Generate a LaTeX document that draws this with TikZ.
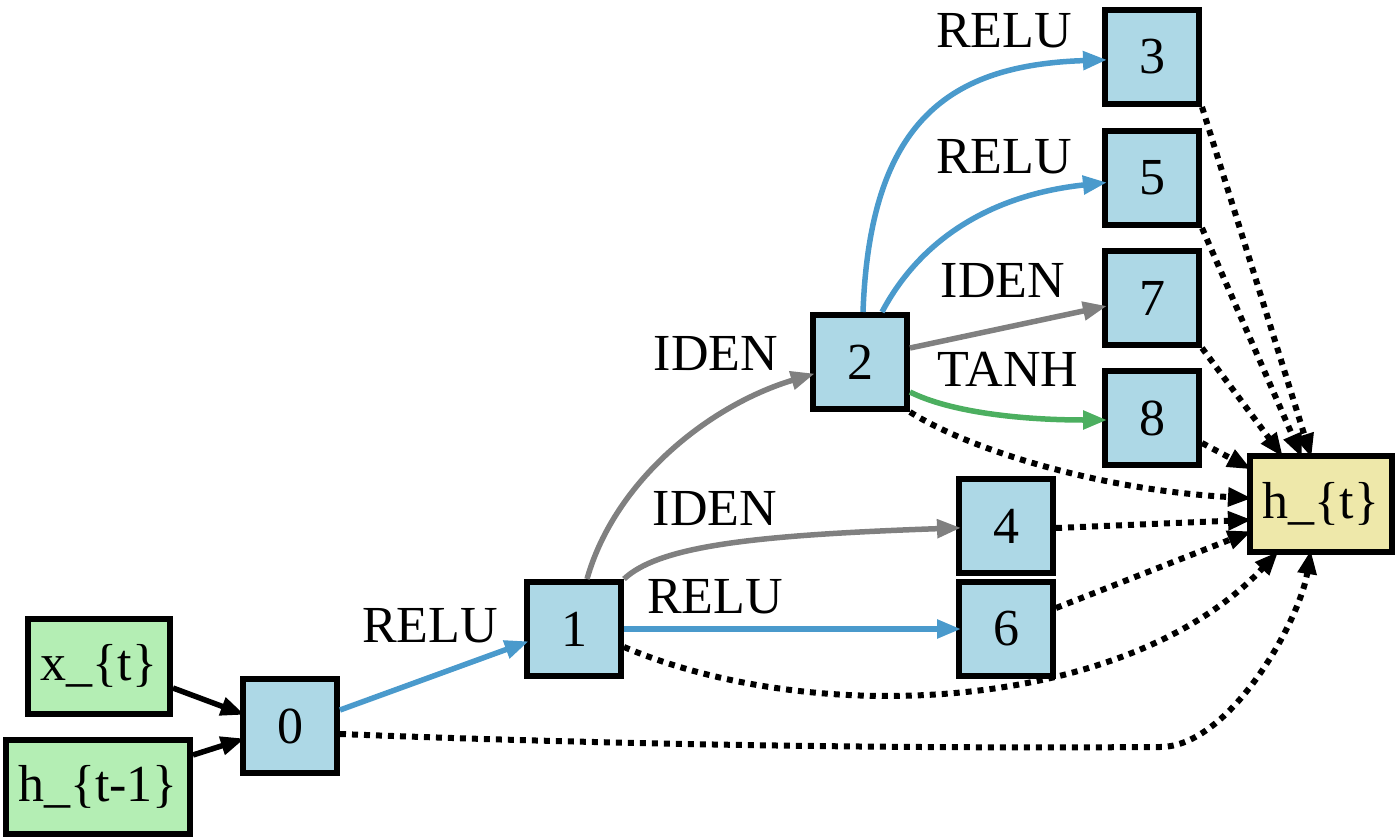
\documentclass[tikz,border=0pt]{standalone}
\usepackage{fontspec}
\setmainfont{Liberation Serif}
\usetikzlibrary{arrows.meta}
\definecolor{nodeblue}{RGB}{173,216,230}
\definecolor{nodegreen}{RGB}{180,238,180}
\definecolor{nodeyellow}{RGB}{238,232,170}
\definecolor{edgeblue}{RGB}{74,154,204}
\definecolor{edgegray}{RGB}{128,128,128}
\definecolor{edgegreen}{RGB}{76,175,96}
\begin{document}
\begin{tikzpicture}[x=1pt,y=-1pt,
  font=\rmfamily\fontsize{52}{62}\selectfont,
  box/.style={draw=black, line width=6pt, inner sep=0pt, minimum width=94pt, minimum height=94pt, fill=nodeblue},
  inbox/.style={box, fill=nodegreen, minimum width=#1},
  outbox/.style={box, fill=nodeyellow, minimum width=142pt, minimum height=96pt},
  edge/.style={line width=5.5pt, shorten >=-5pt, -{Triangle[length=24pt,width=18pt]}},
  dotedge/.style={edge, black, line width=6pt, dash pattern=on 6pt off 6pt},
  lab/.style={anchor=base, inner sep=0pt}
]
\useasboundingbox (0,0) rectangle (1397,840);
% nodes
\node[inbox=142pt, minimum height=95pt] (xt) at (99,666) {x\_\{t\}};
\node[inbox=184pt] (htm) at (98,787) {h\_\{t-1\}};
\node[box] (n0) at (290,726) {0};
\node[box] (n1) at (574,629) {1};
\node[box] (n2) at (860,362) {2};
\node[box] (n3) at (1152,57) {3};
\node[box] (n5) at (1152,178) {5};
\node[box] (n7) at (1152,298) {7};
\node[box] (n8) at (1152,418) {8};
\node[box] (n4) at (1006,526) {4};
\node[box] (n6) at (1006,629) {6};
\node[outbox] (ht) at (1321,504) {h\_\{t\}};
\coordinate (m0) at (1160,747);
% solid edges
\draw[edge] ([yshift=-22pt]xt.east) -- ([yshift=13pt]n0.west);
\draw[edge] ([yshift=32pt]htm.east) -- ([yshift=-14pt]n0.west);
\draw[edge, edgeblue] ([yshift=16pt]n0.east) -- ([yshift=-14pt]n1.west);
\draw[edge, edgegray] ([xshift=13pt]n1.north) .. controls (615,480) and (710,405) .. ([yshift=-13pt]n2.west);
\draw[edge, edgegray] (n1.north east) .. controls (660,545) and (760,535) .. ([yshift=-2pt]n4.west);
\draw[edge, edgeblue] (n1.east) -- (n6.west);
\draw[edge, edgeblue] ([xshift=3pt]n2.north) .. controls (870,120) and (950,65) .. ([yshift=-3pt]n3.west);
\draw[edge, edgeblue] ([xshift=22pt]n2.north) .. controls (920,240) and (990,195) .. ([yshift=-5pt]n5.west);
\draw[edge, edgegray] ([yshift=14pt]n2.east) -- ([yshift=-9pt]n7.west);
\draw[edge, edgegreen] ([yshift=-30pt]n2.east) .. controls (950,412) and (1020,420) .. ([yshift=-2pt]n8.west);
% dotted edges
\draw[dotedge] ([yshift=-18pt]n1.east) .. controls (820,730) and (1130,710) .. ([xshift=-46pt]ht.south);
\draw[dotedge] ([yshift=-8pt]n0.east) .. controls (700,748) and (1000,748) .. (m0) .. controls (1230,747) and (1300,620) .. ([xshift=-11pt]ht.south);
\draw[dotedge] (n2.south east) .. controls (970,450) and (1100,490) .. ([yshift=6pt]ht.west);
\draw[dotedge] (n3.south east) -- ([xshift=-11pt]ht.north);
\draw[dotedge] (n5.south east) -- ([xshift=-21pt]ht.north);
\draw[dotedge] (n7.south east) -- ([xshift=-41pt]ht.north);
\draw[dotedge] ([yshift=-25pt]n8.east) -- ([yshift=37pt]ht.west);
\draw[dotedge] ([yshift=-2pt]n4.east) -- ([yshift=-16pt]ht.west);
\draw[dotedge] ([yshift=21pt]n6.east) -- ([yshift=-29pt]ht.west);
% labels
\node[lab] (l01) at (430,642) {RELU};
\node[lab] (l12) at (716,370) {IDEN};
\node[lab] (l14) at (715,525) {IDEN};
\node[lab] (l16) at (715,613) {RELU};
\node[lab] (l23) at (1004,48) {RELU};
\node[lab] (l25) at (1004,173) {RELU};
\node[lab] (l27) at (1003,297) {IDEN};
\node[lab] (l28) at (1008,386) {TANH};
\end{tikzpicture}
\end{document}
